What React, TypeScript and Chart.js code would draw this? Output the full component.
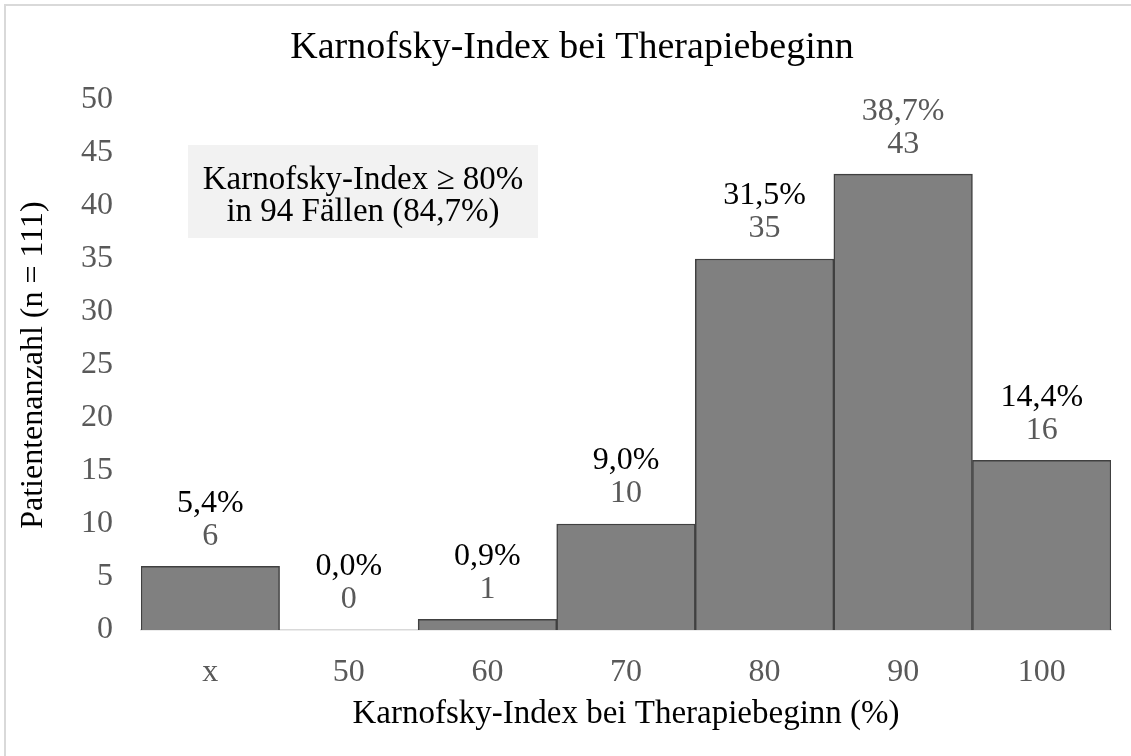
import React, { useEffect, useRef } from "react";
import { Chart, registerables } from "chart.js";

Chart.register(...registerables);

const categories = ["x", "50", "60", "70", "80", "90", "100"];
const counts = [6, 0, 1, 10, 35, 43, 16];
const percentLabels = ["5,4%", "0,0%", "0,9%", "9,0%", "31,5%", "38,7%", "14,4%"];
const percentColors = ["#000000", "#000000", "#000000", "#000000", "#000000", "#595959", "#000000"];
const yTicks = [0, 5, 10, 15, 20, 25, 30, 35, 40, 45, 50];
const titleText = "Karnofsky-Index bei Therapiebeginn";
const xTitle = "Karnofsky-Index bei Therapiebeginn (%)";
const yTitle = "Patientenanzahl (n = 111)";
const noteLines = ["Karnofsky-Index \u2265 80%", "in 94 F\u00e4llen (84,7%)"];

const FONT = '"Liberation Serif", "Times New Roman", serif';

export default function App() {
  const ref = useRef<HTMLCanvasElement | null>(null);

  useEffect(() => {
    document.body.style.margin = "0";
    const canvas = ref.current;
    if (!canvas) return;

    const bgPlugin = {
      id: "bg",
      beforeDraw(chart: any) {
        const ctx = chart.ctx;
        ctx.save();
        ctx.fillStyle = "#ffffff";
        ctx.fillRect(0, 0, chart.width, chart.height);
        ctx.strokeStyle = "#d9d9d9";
        ctx.lineWidth = 2;
        ctx.strokeRect(5, 5, chart.width + 50, chart.height + 50);
        ctx.restore();
      },
    };

    const titlePlugin = {
      id: "customTitle",
      afterDraw(chart: any) {
        const ctx = chart.ctx;
        ctx.save();
        ctx.fillStyle = "#000000";
        ctx.font = `38px ${FONT}`;
        ctx.textAlign = "center";
        ctx.textBaseline = "middle";
        ctx.fillText(titleText, 572, 48);
        ctx.restore();
      },
    };

    const notePlugin = {
      id: "note",
      afterDraw(chart: any) {
        const ctx = chart.ctx;
        const a = chart.chartArea;
        const x0 = a.left + 47;
        const y0 = a.top + 45;
        const w = 350;
        const h = 93;
        ctx.save();
        ctx.fillStyle = "#f2f2f2";
        ctx.fillRect(x0, y0, w, h);
        ctx.fillStyle = "#000000";
        ctx.font = `33px ${FONT}`;
        ctx.textAlign = "center";
        ctx.textBaseline = "middle";
        ctx.fillText(noteLines[0], x0 + w / 2, y0 + 35);
        ctx.fillText(noteLines[1], x0 + w / 2, y0 + 67);
        ctx.restore();
      },
    };

    const labelPlugin = {
      id: "labels",
      afterDatasetsDraw(chart: any) {
        const ctx = chart.ctx;
        const meta = chart.getDatasetMeta(0);
        ctx.save();
        ctx.font = `32px ${FONT}`;
        ctx.textAlign = "center";
        ctx.textBaseline = "middle";
        meta.data.forEach((bar: any, i: number) => {
          ctx.fillStyle = "#595959";
          ctx.fillText(String(counts[i]), bar.x, bar.y - 30);
          ctx.fillStyle = percentColors[i];
          ctx.fillText(percentLabels[i], bar.x, bar.y - 63);
        });
        ctx.restore();
      },
    };

    const chart = new Chart(canvas, {
      type: "bar",
      data: {
        labels: categories,
        datasets: [
          {
            data: counts,
            backgroundColor: "#808080",
            borderColor: "#404040",
            borderWidth: 1.5,
            borderSkipped: "bottom",
            categoryPercentage: 1,
            barPercentage: 1,
          },
        ],
      },
      options: {
        responsive: false,
        animation: false,
        layout: { padding: { left: 0, right: 20, top: 100, bottom: 0 } },
        plugins: {
          legend: { display: false },
          tooltip: { enabled: false },
          title: { display: false },
        },
        scales: {
          x: {
            grid: { display: false, drawTicks: false },
            border: { display: true, color: "#d9d9d9", width: 1.5 },
            ticks: {
              color: "#595959",
              font: { family: FONT, size: 32 },
              padding: 23,
              maxRotation: 0,
            },
            title: {
              display: true,
              text: xTitle,
              color: "#000000",
              font: { family: FONT, size: 33 },
              padding: { top: 0, bottom: 22 },
            },
            afterFit(scale: any) {
              scale.height = 126;
            },
          },
          y: {
            min: 0,
            max: 50,
            grid: { display: false, drawTicks: false },
            border: { display: false },
            afterBuildTicks(scale: any) {
              scale.ticks = yTicks.map((v) => ({ value: v }));
            },
            ticks: {
              color: "#595959",
              font: { family: FONT, size: 32 },
              padding: 28,
            },
            title: {
              display: true,
              text: yTitle,
              color: "#000000",
              font: { family: FONT, size: 32 },
              padding: { top: 14, bottom: 0 },
            },
            afterFit(scale: any) {
              scale.width = 141;
            },
          },
        },
      },
      plugins: [bgPlugin, notePlugin, labelPlugin, titlePlugin],
    } as any);

    return () => chart.destroy();
  }, []);

  return (
    <div style={{ width: 1131, height: 756 }}>
      <canvas ref={ref} width={1131} height={756} style={{ display: "block" }} />
    </div>
  );
}
